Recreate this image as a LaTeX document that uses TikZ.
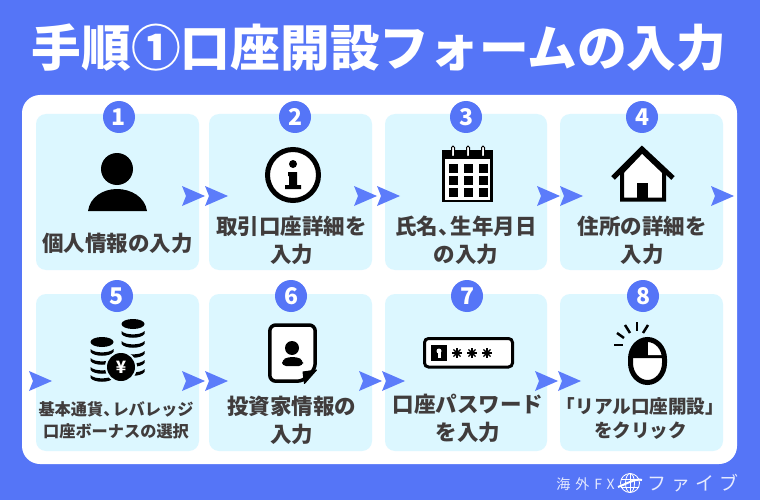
\documentclass[tikz,border=0pt]{standalone}
\usepackage{fontspec}
\setmainfont{Noto Sans CJK JP}
\newfontfamily\spacedfont[LetterSpace=25]{Noto Sans CJK JP}
\newfontfamily\widefont[LetterSpace=36]{Noto Sans CJK JP}
\definecolor{panelblue}{RGB}{85,117,247}
\definecolor{chevronblue}{RGB}{92,124,250}
\definecolor{cardblue}{RGB}{220,247,255}
\definecolor{labelgray}{RGB}{64,60,60}
\tikzset{
  steplabel/.style={align=center,text=labelgray,font=\fontsize{21.5}{28}\bfseries\selectfont},
  smalllabel/.style={align=center,text=labelgray,font=\fontsize{16.2}{22}\bfseries\selectfont},
  midlabel/.style={align=center,text=labelgray,font=\fontsize{18.6}{24}\bfseries\selectfont},
  stepnum/.style={circle,fill=panelblue,text=white,minimum size=32pt,inner sep=0pt,font=\fontsize{23}{23}\bfseries\selectfont},
  stepchevron/.pic={\fill[chevronblue] (0,-10) -- (23,0) -- (0,10) -- (4,0) -- cycle;},
  coinband/.pic={\fill (-11.5,-2) .. controls (-8,2.5) and (8,2.5) .. (11.5,-2) -- (11.5,1) .. controls (8,6) and (-8,6) .. (-11.5,1) -- cycle;},
  cointop/.pic={\fill (0,0) ellipse (11.5 and 5);}
}
\begin{document}
\begin{tikzpicture}[x=1pt,y=-1pt]
    \fill[panelblue] (0,0) rectangle (760,500);
    \fill[white,rounded corners=18pt] (22,95) rectangle (737,464);
    \node[text=white,font=\fontsize{49.7}{50}\bfseries\selectfont] (title) at (379,48) {手順①口座開設フォームの入力};

    \fill[cardblue,rounded corners=10pt] (36,114) rectangle (199,270);
    \fill[cardblue,rounded corners=10pt] (209,114) rectangle (372,270);
    \fill[cardblue,rounded corners=10pt] (385,114) rectangle (547,270);
    \fill[cardblue,rounded corners=10pt] (560,114) rectangle (723,270);
    \fill[cardblue,rounded corners=10pt] (36,294) rectangle (199,451);
    \fill[cardblue,rounded corners=10pt] (209,294) rectangle (372,451);
    \fill[cardblue,rounded corners=10pt] (385,294) rectangle (547,451);
    \fill[cardblue,rounded corners=10pt] (560,294) rectangle (723,451);

    \node[stepnum] (num1) at (119,117) {1};
    \node[stepnum] (num2) at (295,117) {2};
    \node[stepnum] (num3) at (466,117) {3};
    \node[stepnum] (num4) at (642,117) {4};
    \node[stepnum] (num5) at (117,296) {5};
    \node[stepnum] (num6) at (291,296) {6};
    \node[stepnum] (num7) at (467,296) {7};
    \node[stepnum] (num8) at (643,296) {8};

    \node[steplabel] (label1) at (117.5,243) {個人情報の入力};
    \node[steplabel] (label2) at (291.5,240) {取引口座詳細を\\入力};
    \node[steplabel] (label3) at (466,240) {氏名、\hspace{-9pt}生年月日\\の入力};
    \node[steplabel] (label4) at (642,240) {住所の詳細を\\入力};
    \node[smalllabel] (label5) at (116,420) {基本通貨、\hspace{-7pt}レバレッジ\\口座ボーナスの選択};
    \node[steplabel] (label6) at (291.5,420) {投資家情報の\\入力};
    \node[steplabel] (label7) at (468,418) {口座パスワード\\を入力};
    \node[midlabel] (label8) at (640.5,419) {「リアル口座開設」\\をクリック};

    \pic at (182,196) {stepchevron};
    \pic at (205,196) {stepchevron};
    \pic at (354,196) {stepchevron};
    \pic at (377,196) {stepchevron};
    \pic at (537,196) {stepchevron};
    \pic at (560,196) {stepchevron};
    \pic at (711,196) {stepchevron};
    \pic at (29,381) {stepchevron};
    \pic at (182,381) {stepchevron};
    \pic at (205,381) {stepchevron};
    \pic at (359,381) {stepchevron};
    \pic at (382,381) {stepchevron};
    \pic at (535,381) {stepchevron};
    \pic at (558,381) {stepchevron};

    % person
    \fill (117,169) circle (16);
    \fill (88,211) .. controls (90,197) and (103,189) .. (117,189) .. controls (131,189) and (145,197) .. (147,211) -- cycle;

    % info
    \draw[line width=5pt,fill=white] (293,175) circle (25.5);
    \fill (293,164) circle (4);
    \fill (288,172) -- (297,172) -- (297,185) -- (301,185) -- (301,189) -- (285,189) -- (285,185) -- (289,185) -- (289,176) -- (288,176) -- cycle;

    % calendar
    \draw[line width=2.5pt,fill=white] (443.5,151) rectangle (491.5,201);
    \fill (442,150) rectangle (493,159);
    \foreach \cx in {453,468,483} {
        \foreach \cy in {168,180,192} {
            \fill (\cx-4.5,\cy-4.5) rectangle (\cx+4.5,\cy+4.5);
        }
        \draw[fill=white,line width=1pt,rounded corners=1.5pt] (\cx-1.5,146) rectangle (\cx+1.5,157);
    }

    % house
    \draw[line width=4pt,fill=white] (622,172) -- (622,199.5) -- (664,199.5) -- (664,172) -- (642,151) -- cycle;
    \draw[line width=5pt] (613,178) -- (642,149) -- (673,178);
    \fill (637,183) rectangle (648,200);

    % coins
    \pic at (133,324) {cointop};
    \pic at (133,333) {coinband};
    \pic at (133,343) {coinband};
    \pic at (133,353) {coinband};
    \pic at (133,362) {coinband};
    \pic at (133,371) {coinband};
    \pic at (102,342) {cointop};
    \pic at (102,351) {coinband};
    \pic at (102,360) {coinband};
    \pic at (102,369) {coinband};
    \pic at (102,377) {coinband};
    \fill[cardblue] (121,367) circle (16);
    \node[circle,fill=black,text=white,minimum size=28pt,inner sep=0pt,font=\fontsize{17}{17}\bfseries\selectfont] (yen) at (121,367) {¥};

    % document
    \draw[line width=3.5pt,fill=white,rounded corners=6pt] (269.8,325) -- (315.2,325) -- (315.2,369) -- (303,381.2) -- (269.8,381.2) -- cycle;
    \draw[line width=1pt,fill=black,line join=round] (303,372) -- (316.5,370) -- (304.5,383.5) -- cycle;
    \fill (292,348) circle (7);
    \fill[rounded corners=4pt] (282,366) -- (282,360) -- (288,357) -- (297,357) -- (303,360) -- (303,366) -- cycle;

    % password
    \draw[line width=3pt,fill=white,rounded corners=4pt] (424.5,338.5) rectangle (512.5,367);
    \fill (431,345) rectangle (447,361);
    \fill[white] (439,351) circle (2.5);
    \fill[white] (437.5,351) rectangle (440.5,358);
    \foreach \cx in {457,472,487} {
        \fill (\cx,353) circle (2.8);
        \foreach \ang in {0,45,...,315} {
            \draw[line width=1.2pt] (\cx,353) -- ++(\ang:5);
        }
    }

    % mouse
    \fill[white] (630.5,358) -- (664.5,358) -- (664.5,363) arc[start angle=0,end angle=180,x radius=17,y radius=19.5] -- cycle;
    \fill (630.5,358) -- (630.5,359) arc[start angle=180,end angle=360,x radius=17,y radius=19.5] -- (664.5,358) -- cycle;
    \fill[white] (648,342) -- (648,355) -- (662,355) -- (662,352) arc[start angle=0,end angle=-90,x radius=14,y radius=10] -- cycle;
    \draw[line width=5pt] (630.5,359) arc[start angle=180,end angle=360,x radius=17,y radius=19.5] -- (664.5,363) arc[start angle=0,end angle=180,x radius=17,y radius=19.5] -- cycle;
    \draw[line width=2.5pt] (614,345) -- (623,345);
    \draw[line width=2.5pt] (617,333) -- (624,338);
    \draw[line width=2.5pt] (625,325) -- (630,333);
    \draw[line width=2.5pt] (637,322) -- (637,331);
    \draw[line width=2.5pt] (648,325) -- (643,333);

    % footer
    \node[text=white!85!panelblue,font=\fontsize{14}{14}\widefont\selectfont] (brandsmall) at (585.5,484) {海外FX};
    \draw[white,line width=.8pt] (630,483) circle (9.5);
    \draw[white,line width=.8pt] (630,483) ellipse (4.5 and 9.5);
    \draw[white,line width=.8pt] (630,473.5) -- (630,492.5);
    \draw[white,line width=.8pt] (621,479) -- (639,479);
    \draw[white,line width=.8pt] (621,487) -- (639,487);
    \draw[white,line width=2pt] (618,487) .. controls (626,484) and (636,478) .. (642,480);
    \node[text=white!85!panelblue,font=\fontsize{19}{19}\spacedfont\selectfont] (brandlarge) at (693,483) {ファイブ};
\end{tikzpicture}
\end{document}
